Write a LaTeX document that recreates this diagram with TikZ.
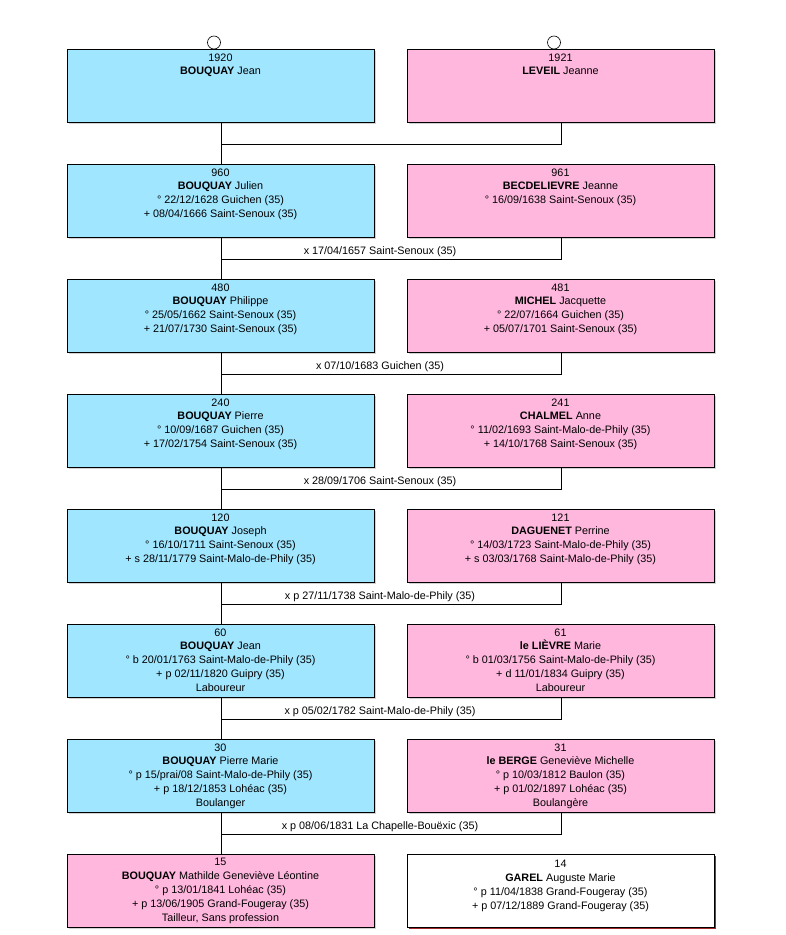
\documentclass[tikz,border=0pt]{standalone}
\usepackage{fontspec}
\setmainfont{Liberation Sans}
\usetikzlibrary{shadows}
\definecolor{mblue}{RGB}{160,230,255}
\definecolor{fpink}{RGB}{255,183,222}
\begin{document}
\begin{tikzpicture}[x=1pt,y=-1pt,
  person/.style={draw=black, line width=0.8pt, minimum width=307pt, minimum height=73pt, inner sep=0pt, anchor=north west,
    drop shadow={shadow xshift=1.3pt, shadow yshift=-1.3pt, opacity=0.35}},
  male/.style={person, fill=mblue},
  female/.style={person, fill=fpink},
  plain/.style={person, fill=white, drop shadow={shadow xshift=1.3pt, shadow yshift=-1.3pt, opacity=0.8, fill=red!60!black}},
  info/.style={anchor=north, inner sep=0pt, align=center, font=\fontsize{10.8}{13.8}\selectfont},
  mlabel/.style={anchor=base, inner sep=0pt, font=\fontsize{10.8}{12}\selectfont},
  link/.style={draw=black, line width=0.8pt},
  ring/.style={draw=black, line width=0.6pt, circle, minimum size=13pt, inner sep=0pt}]
\useasboundingbox (0,0) rectangle (785,935);
\fill[white] (0,0) rectangle (785,935);

% generation 0
\node[male]   (L0) at (67,49) {};
\node[female] (R0) at (407,49) {};
\node[ring] (c0) at (214,42.5) {};
\node[ring] (c1) at (554,42.5) {};
\node[info] (tL0) at (220.5,53.4) {1920\\\textbf{BOUQUAY} Jean};
\node[info] (tR0) at (560.5,53.4) {1921\\\textbf{LEVEIL} Jeanne};

% generation 1
\node[male]   (L1) at (67,164) {};
\node[female] (R1) at (407,164) {};
\node[info] (tL1) at (220.5,168.4) {960\\\textbf{BOUQUAY} Julien\\° 22/12/1628 Guichen (35)\\+ 08/04/1666 Saint-Senoux (35)};
\node[info] (tR1) at (560.5,168.4) {961\\\textbf{BECDELIEVRE} Jeanne\\° 16/09/1638 Saint-Senoux (35)};

% generation 2
\node[male]   (L2) at (67,279) {};
\node[female] (R2) at (407,279) {};
\node[info] (tL2) at (220.5,283.4) {480\\\textbf{BOUQUAY} Philippe\\° 25/05/1662 Saint-Senoux (35)\\+ 21/07/1730 Saint-Senoux (35)};
\node[info] (tR2) at (560.5,283.4) {481\\\textbf{MICHEL} Jacquette\\° 22/07/1664 Guichen (35)\\+ 05/07/1701 Saint-Senoux (35)};

% generation 3
\node[male]   (L3) at (67,394) {};
\node[female] (R3) at (407,394) {};
\node[info] (tL3) at (220.5,398.4) {240\\\textbf{BOUQUAY} Pierre\\° 10/09/1687 Guichen (35)\\+ 17/02/1754 Saint-Senoux (35)};
\node[info] (tR3) at (560.5,398.4) {241\\\textbf{CHALMEL} Anne\\° 11/02/1693 Saint-Malo-de-Phily (35)\\+ 14/10/1768 Saint-Senoux (35)};

% generation 4
\node[male]   (L4) at (67,509) {};
\node[female] (R4) at (407,509) {};
\node[info] (tL4) at (220.5,513.4) {120\\\textbf{BOUQUAY} Joseph\\° 16/10/1711 Saint-Senoux (35)\\+ s 28/11/1779 Saint-Malo-de-Phily (35)};
\node[info] (tR4) at (560.5,513.4) {121\\\textbf{DAGUENET} Perrine\\° 14/03/1723 Saint-Malo-de-Phily (35)\\+ s 03/03/1768 Saint-Malo-de-Phily (35)};

% generation 5
\node[male]   (L5) at (67,624) {};
\node[female] (R5) at (407,624) {};
\node[info] (tL5) at (220.5,628.4) {60\\\textbf{BOUQUAY} Jean\\° b 20/01/1763 Saint-Malo-de-Phily (35)\\+ p 02/11/1820 Guipry (35)\\Laboureur};
\node[info] (tR5) at (560.5,628.4) {61\\\textbf{le LIÈVRE} Marie\\° b 01/03/1756 Saint-Malo-de-Phily (35)\\+ d 11/01/1834 Guipry (35)\\Laboureur};

% generation 6
\node[male]   (L6) at (67,739) {};
\node[female] (R6) at (407,739) {};
\node[info] (tL6) at (220.5,743.4) {30\\\textbf{BOUQUAY} Pierre Marie\\° p 15/prai/08 Saint-Malo-de-Phily (35)\\+ p 18/12/1853 Lohéac (35)\\Boulanger};
\node[info] (tR6) at (560.5,743.4) {31\\\textbf{le BERGE} Geneviève Michelle\\° p 10/03/1812 Baulon (35)\\+ p 01/02/1897 Lohéac (35)\\Boulangère};

% generation 7
\node[female] (L7) at (67,854) {};
\node[plain]  (R7) at (407,854) {};
\node[info] (tL7) at (220.5,858.2) {15\\\textbf{BOUQUAY} Mathilde Geneviève Léontine\\° p 13/01/1841 Lohéac (35)\\+ p 13/06/1905 Grand-Fougeray (35)\\Tailleur, Sans profession};
\node[info] (tR7) at (560.5,860.2) {14\\\textbf{GAREL} Auguste Marie\\° p 11/04/1838 Grand-Fougeray (35)\\+ p 07/12/1889 Grand-Fougeray (35)};

% connectors
\foreach \i/\j/\y in {0/1/144,1/2/259,2/3/374,3/4/489,4/5/604,5/6/719,6/7/834}{
  \coordinate (m\i) at (L\i.south |- 0,\y);
  \draw[link] (L\i.south) -- (L\j.north);
  \draw[link] (R\i.south) |- (m\i);
}

% marriage labels
\node[mlabel] (x1) at (380,254.9) {x 17/04/1657 Saint-Senoux (35)};
\node[mlabel] (x2) at (380,369.9) {x 07/10/1683 Guichen (35)};
\node[mlabel] (x3) at (380,484.9) {x 28/09/1706 Saint-Senoux (35)};
\node[mlabel] (x4) at (380,599.9) {x p 27/11/1738 Saint-Malo-de-Phily (35)};
\node[mlabel] (x5) at (380,714.9) {x p 05/02/1782 Saint-Malo-de-Phily (35)};
\node[mlabel] (x6) at (380,829.9) {x p 08/06/1831 La Chapelle-Bouëxic (35)};
\end{tikzpicture}
\end{document}
